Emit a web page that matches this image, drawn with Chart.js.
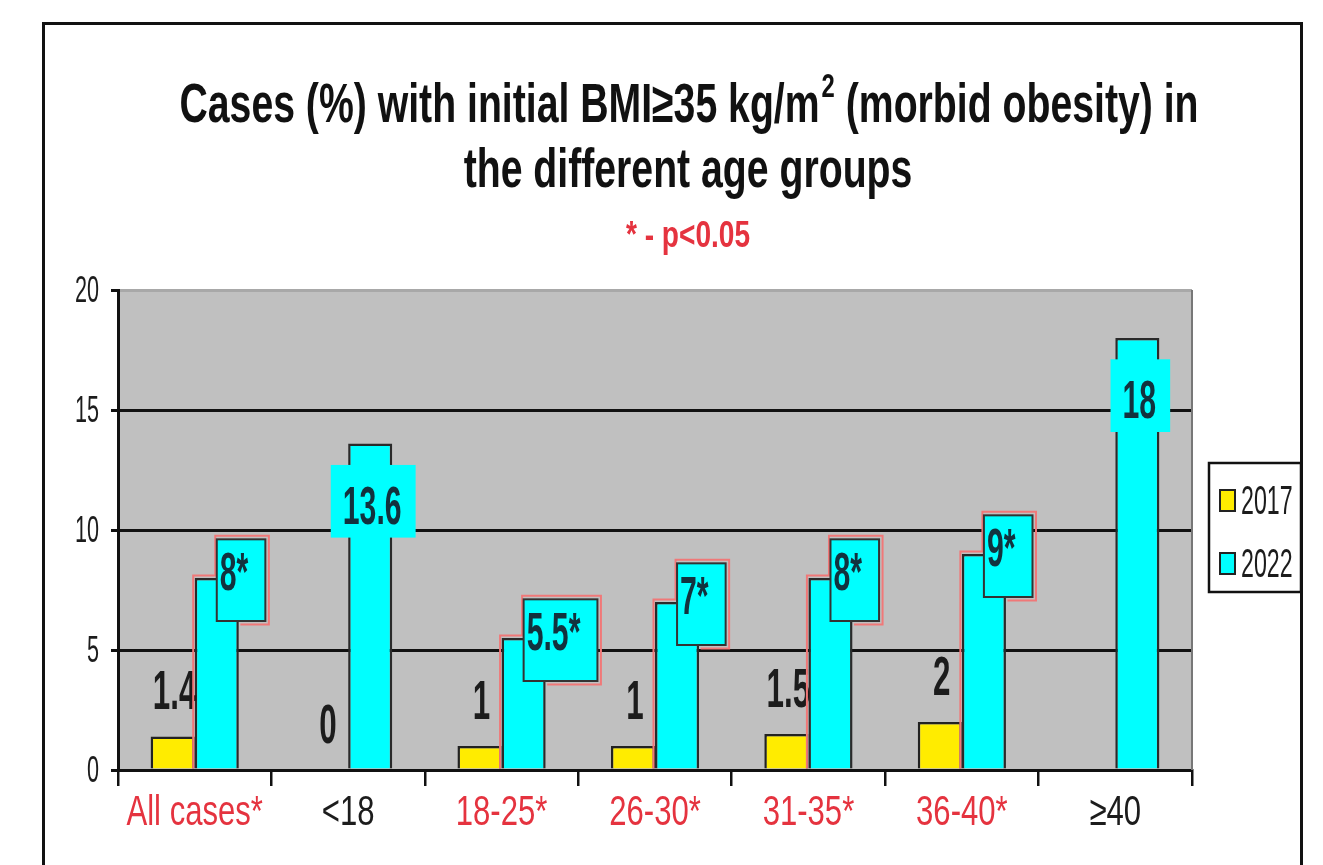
<!DOCTYPE html>
<html>
<head>
<meta charset="utf-8">
<script src="https://cdn.jsdelivr.net/npm/chart.js@4.4.0/dist/chart.umd.min.js"></script>
<style>
  html, body { margin: 0; padding: 0; background: #fff; }
  #wrap { position: relative; width: 1323px; height: 865px; }
</style>
</head>
<body>
<div id="wrap"><canvas id="myChart" width="1323" height="865"></canvas></div>
<script>
// data
const categories = ["All cases*", "<18", "18-25*", "26-30*", "31-35*", "36-40*", "≥40"];
const seriesNames = ["2017", "2022"];
const values2017 = [1.4, 0, 1, 1, 1.5, 2, null];
const values2022 = [8, 13.6, 5.5, 7, 8, 9, 18];
const labels2022 = ["8*", "13.6", "5.5*", "7*", "8*", "9*", "18"];
const yTicks = [0, 5, 10, 15, 20];
const titleMain = "Cases (%) with initial BMI≥35 kg/m";
const titleSup = "2";
const titleRest = " (morbid obesity) in";
const titleLine2 = "the different age groups";
const subtitle = "* - p<0.05";

const FONT = "'Liberation Sans', Arial, Helvetica, sans-serif";
const YELLOW = "#ffec00";
const CYAN = "#00ffff";
const RED = "#e5333f";
const INK = "#1c1c1c";

// the picture uses a squeezed font, so text is drawn with a horizontal scale
function drawText(ctx, txt, x, y, size, o) {
  o = o || {};
  ctx.save();
  ctx.translate(x, y);
  ctx.scale(o.sx || 0.6, 1);
  ctx.font = (o.bold ? "bold " : "") + size + "px " + FONT;
  ctx.fillStyle = o.color || INK;
  ctx.textAlign = o.align || "center";
  ctx.textBaseline = o.baseline || "alphabetic";
  ctx.fillText(txt, 0, 0);
  ctx.restore();
}

function textWidth(ctx, txt, size, o) {
  o = o || {};
  ctx.save();
  ctx.font = (o.bold ? "bold " : "") + size + "px " + FONT;
  const w = ctx.measureText(txt).width * (o.sx || 0.6);
  ctx.restore();
  return w;
}

const backdrop = {
  id: "backdrop",
  beforeDraw(chart) {
    const ctx = chart.ctx, a = chart.chartArea;
    ctx.save();
    ctx.fillStyle = "#fff";
    ctx.fillRect(0, 0, chart.width, chart.height);
    ctx.fillStyle = "#c0c0c0";
    ctx.fillRect(a.left, a.top, a.right - a.left, a.bottom - a.top);
    ctx.restore();
  },
  beforeDatasetsDraw(chart) {
    const ctx = chart.ctx, a = chart.chartArea;
    ctx.save();
    ctx.strokeStyle = "#777";
    ctx.lineWidth = 2;
    ctx.beginPath();
    ctx.moveTo(a.right, a.top);
    ctx.lineTo(a.right, a.bottom);
    ctx.stroke();
    ctx.restore();
  }
};

const valueLabels = {
  id: "valueLabels",
  afterDatasetsDraw(chart) {
    const ctx = chart.ctx;
    const m0 = chart.getDatasetMeta(0);
    const m1 = chart.getDatasetMeta(1);

    m0.data.forEach((bar, i) => {
      if (values2017[i] === null) return;
      drawText(ctx, String(values2017[i]), bar.x + 2, bar.y - 27, 56, { sx: 0.56, bold: true });
    });

    m1.data.forEach((bar, i) => {
      const txt = labels2022[i];
      const size = 54;
      const lo = { sx: 0.56, bold: true };
      const tw = textWidth(ctx, txt, size, lo);
      const capH = size * 0.716;
      const half = bar.width / 2;
      ctx.save();
      if (txt.includes("*")) {
        const base = bar.y + 12;
        const bx = bar.x, by = base - capH - 12;
        const bw = tw + 20, bh = capH + 12 + 31;
        // red outline round bar + label box
        ctx.strokeStyle = "#f07878";
        ctx.lineWidth = 2;
        ctx.beginPath();
        ctx.moveTo(bar.x - half - 1.5, bar.base);
        ctx.lineTo(bar.x - half - 1.5, bar.y - 2.5);
        ctx.lineTo(bx - 1.5, bar.y - 2.5);
        ctx.lineTo(bx - 1.5, by - 3.5);
        ctx.lineTo(bx + bw + 3.5, by - 3.5);
        ctx.lineTo(bx + bw + 3.5, by + bh + 3.5);
        ctx.lineTo(bar.x + half + 1.5, by + bh + 3.5);
        ctx.stroke();
        ctx.fillStyle = CYAN;
        ctx.fillRect(bx, by, bw, bh);
        ctx.strokeStyle = "#333";
        ctx.lineWidth = 2;
        ctx.strokeRect(bx, by, bw, bh);
        drawText(ctx, txt, bx + 3, base, size, Object.assign({ align: "left", color: "#12323e" }, lo));
      } else {
        const base = bar.y + 80;
        ctx.fillStyle = CYAN;
        ctx.fillRect(bar.x - tw / 2 - 10, base - capH - 20, tw + 26, capH + 20 + 14);
        drawText(ctx, txt, bar.x + 2, base, size, Object.assign({ color: "#12323e" }, lo));
      }
      ctx.restore();
    });
  }
};

const textLayer = {
  id: "textLayer",
  afterDraw(chart) {
    const ctx = chart.ctx;
    const xs = chart.scales.x, ys = chart.scales.y;

    // title
    const cx = 688;
    const o = { sx: 0.7, bold: true, align: "left", color: "#111" };
    const w1 = textWidth(ctx, titleMain, 56, o);
    const w2 = textWidth(ctx, titleSup, 34, o);
    const w3 = textWidth(ctx, titleRest, 56, o);
    let x0 = cx - (w1 + w2 + w3) / 2;
    drawText(ctx, titleMain, x0, 122, 56, o);
    drawText(ctx, titleSup, x0 + w1 + 2, 97, 34, o);
    drawText(ctx, titleRest, x0 + w1 + w2 + 2, 122, 56, o);
    drawText(ctx, titleLine2, cx, 187, 56, { sx: 0.7, bold: true, color: "#111" });
    drawText(ctx, subtitle, cx, 247, 36, { sx: 0.78, bold: true, color: RED });

    // y tick labels
    ys.ticks.forEach(t => {
      drawText(ctx, String(t.value), 99, ys.getPixelForValue(t.value) + 12, 36, { sx: 0.6, align: "right" });
    });

    // x tick labels
    categories.forEach((c, i) => {
      drawText(ctx, c, xs.getPixelForTick(i), 825, 42, {
        sx: 0.74,
        color: c.includes("*") ? RED : INK
      });
    });

    // legend
    ctx.save();
    ctx.fillStyle = "#fff";
    ctx.fillRect(1209, 463, 92, 129);
    ctx.strokeStyle = "#111";
    ctx.lineWidth = 2.5;
    ctx.strokeRect(1209, 463, 92, 129);
    [YELLOW, CYAN].forEach((col, i) => {
      const yc = 500 + i * 63;
      ctx.fillStyle = col;
      ctx.fillRect(1220, yc - 10, 15, 21);
      ctx.strokeStyle = "#222";
      ctx.lineWidth = 2;
      ctx.strokeRect(1220, yc - 10, 15, 21);
      drawText(ctx, seriesNames[i], 1241, yc + 14, 40, { sx: 0.58, align: "left" });
    });
    ctx.restore();

    // outer frame
    ctx.save();
    ctx.strokeStyle = "#111";
    ctx.lineWidth = 3;
    ctx.strokeRect(43.5, 23.5, 1258, 900);
    ctx.restore();
  }
};

const config = {
  type: "bar",
  data: {
    labels: categories,
    datasets: [
      {
        label: seriesNames[0],
        data: values2017,
        backgroundColor: YELLOW,
        borderColor: "#222",
        borderWidth: ctx => (ctx.raw ? 2.5 : 0)
      },
      {
        label: seriesNames[1],
        data: values2022,
        backgroundColor: CYAN,
        borderColor: "#2a2a2a",
        borderWidth: 2.5
      }
    ]
  },
  options: {
    responsive: false,
    animation: false,
    events: [],
    layout: { padding: { left: 0, right: 131, top: 290, bottom: 30 } },
    datasets: {
      bar: { categoryPercentage: 0.575, barPercentage: 1.0 }
    },
    plugins: {
      legend: { display: false },
      title: { display: false },
      tooltip: { enabled: false }
    },
    scales: {
      x: {
        afterFit: s => { s.height = 65; },
        grid: {
          offset: true,
          drawOnChartArea: false,
          color: "#111",
          lineWidth: 2.5,
          tickLength: 16
        },
        border: { color: "#111", width: 3 },
        ticks: { display: false }
      },
      y: {
        min: 0,
        max: 20,
        afterFit: s => { s.width = 118; },
        afterBuildTicks: s => { s.ticks = yTicks.map(v => ({ value: v })); },
        grid: {
          color: c => (c.tick && c.tick.value === 20 ? "#a8a8a8" : "#111"),
          tickColor: "#111",
          lineWidth: 3,
          tickLength: 7
        },
        border: { color: "#111", width: 3 },
        ticks: { display: false }
      }
    }
  },
  plugins: [backdrop, valueLabels, textLayer]
};

const myChart = new Chart(document.getElementById("myChart"), config);
</script>
</body>
</html>
